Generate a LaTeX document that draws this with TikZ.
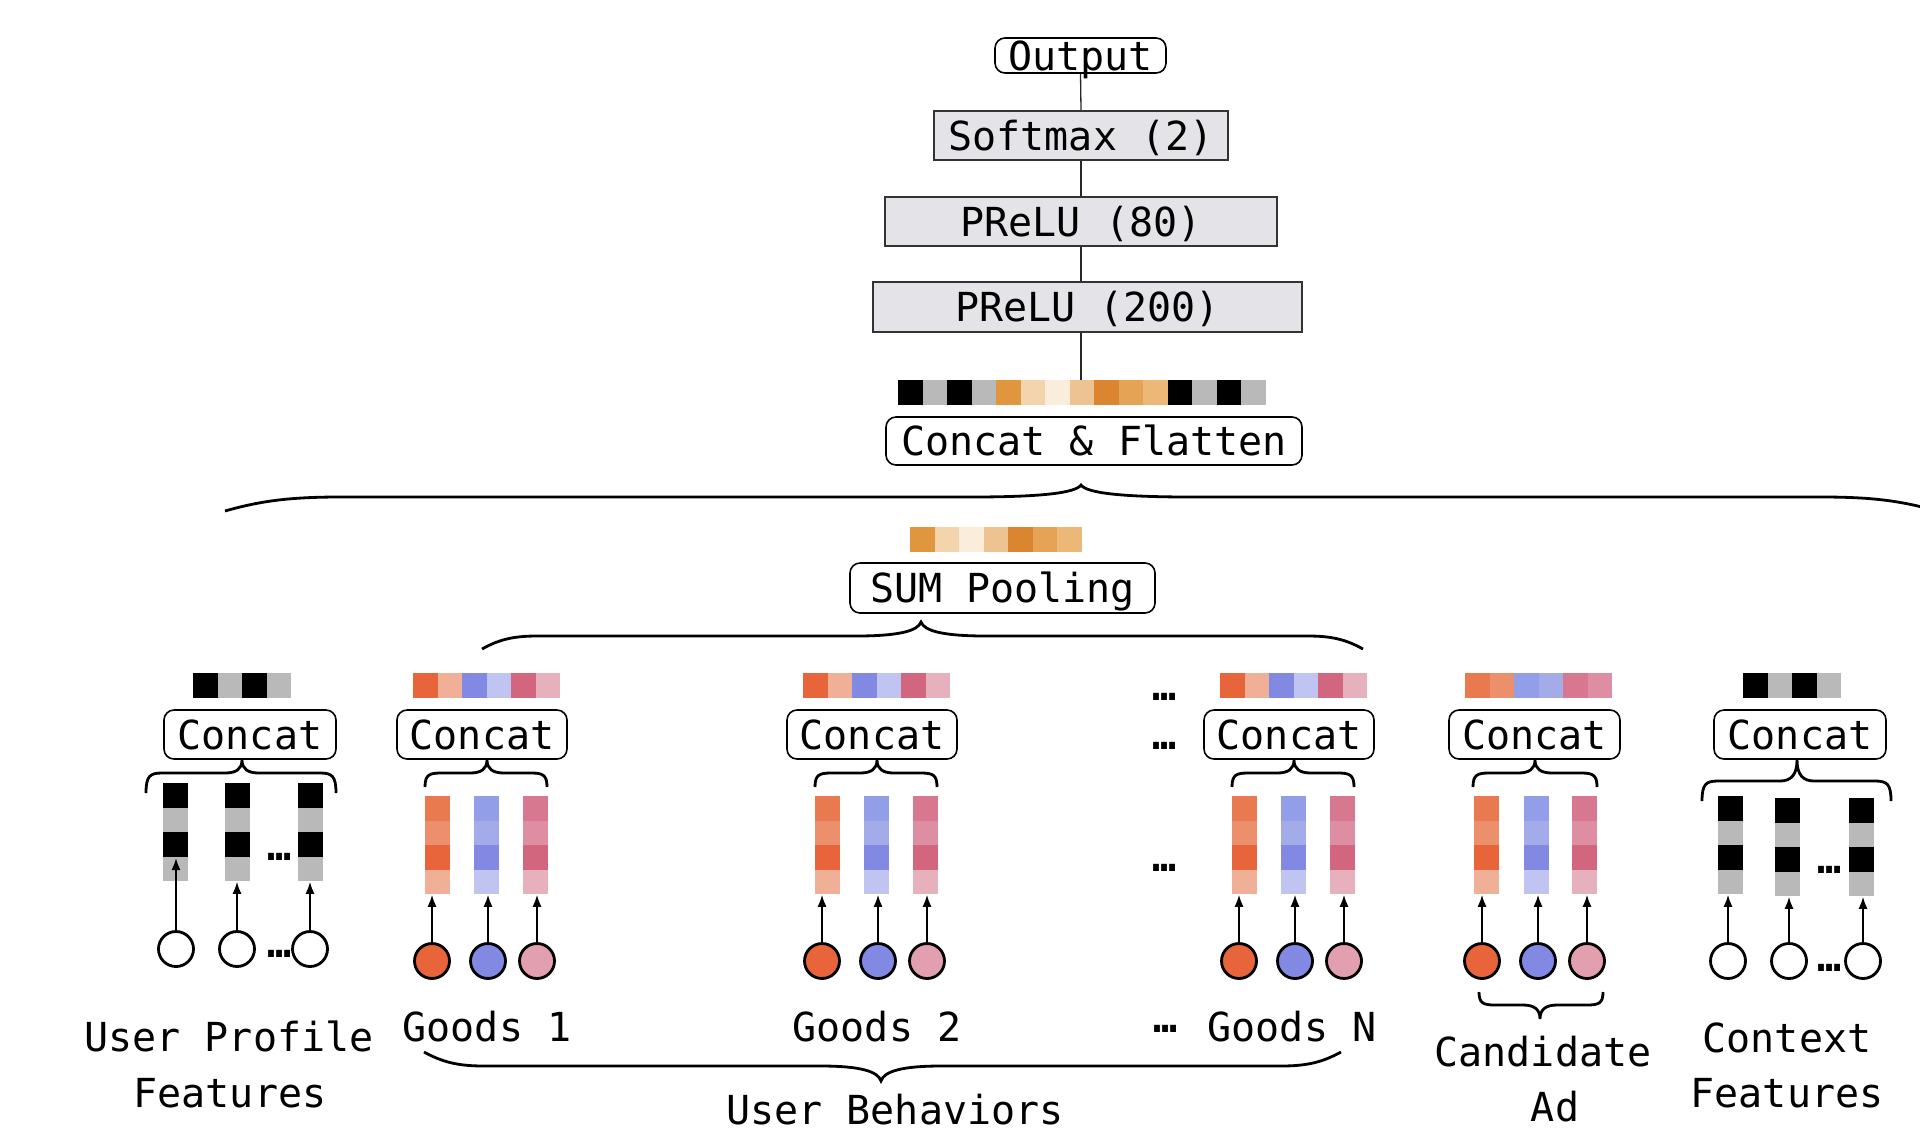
\documentclass[tikz,border=0pt]{standalone}
\usepackage{fontspec}
\setmainfont{DejaVu Sans Mono}
\usetikzlibrary{arrows.meta}
\definecolor{blk}{HTML}{000000}
\definecolor{gry}{HTML}{B9B9B9}
\definecolor{o1}{HTML}{E0963F}
\definecolor{o2}{HTML}{F4D4AC}
\definecolor{o3}{HTML}{FAEDDC}
\definecolor{o4}{HTML}{EDC391}
\definecolor{o5}{HTML}{DC8531}
\definecolor{o6}{HTML}{E5A455}
\definecolor{o7}{HTML}{ECB878}
\definecolor{r1}{HTML}{E8643A}
\definecolor{r2}{HTML}{F0AF97}
\definecolor{r3}{HTML}{E97A50}
\definecolor{r4}{HTML}{EB8F6C}
\definecolor{b1}{HTML}{8189E3}
\definecolor{b2}{HTML}{BFC4F0}
\definecolor{b3}{HTML}{939EE8}
\definecolor{b4}{HTML}{A3ACE9}
\definecolor{p1}{HTML}{D3667F}
\definecolor{p2}{HTML}{E6B0BD}
\definecolor{p3}{HTML}{D77890}
\definecolor{p4}{HTML}{DE8EA2}
\definecolor{pc}{HTML}{E29FB0}
\definecolor{boxgray}{HTML}{E4E4E8}

% row of square cells: x0, y0, colours
\newcommand{\cellrow}[3]{%
  \foreach \cc [count=\ii from 0] in {#3} {\fill[\cc] ({#1+\ii*24.5},{#2}) rectangle ({#1+(\ii+1)*24.5},{#2+24.5});}%
}
% column of cells with a named node: name, x0, y0, colours
\newcommand{\cellcol}[4]{%
  \foreach \cc [count=\ii from 0] in {#4} {\fill[\cc] ({#2},{#3+\ii*24.5}) rectangle ({#2+24.5},{#3+(\ii+1)*24.5});}%
  \node[inner sep=0pt, minimum width=12.25pt, minimum height=49pt, anchor=north west] (#1) at ({#2},{#3}) {};%
}
% small brace: xl, xr, xtip, yend, yflat, ytip
\newcommand{\sbrc}[6]{%
  \draw[brc] ({#1},{#4}) .. controls ({#1},{#5+0.15*(#4-#5)}) and ({#1+4},{#5}) .. ({#1+16},{#5})
    -- ({#3-17},{#5}) .. controls ({#3-6},{#5}) and ({#3},{#5-0.3*(#5-#6)}) .. ({#3},{#6})
    .. controls ({#3},{#5-0.3*(#5-#6)}) and ({#3+6},{#5}) .. ({#3+17},{#5})
    -- ({#2-16},{#5}) .. controls ({#2-4},{#5}) and ({#2},{#5+0.15*(#4-#5)}) .. ({#2},{#4});%
}
% long brace: xl, xr, xtip, yend, yflat, ytip, end-curl, tip-curl
\newcommand{\lbrc}[8]{%
  \draw[brc] ({#1},{#4}) .. controls ({#1+0.3*#7},{#5+0.3*(#4-#5)}) and ({#1+0.55*#7},{#5}) .. ({#1+#7},{#5})
    -- ({#3-#8},{#5}) .. controls ({#3-0.35*#8},{#5}) and ({#3-0.05*#8},{#5-0.35*(#5-#6)}) .. ({#3},{#6})
    .. controls ({#3+0.05*#8},{#5-0.35*(#5-#6)}) and ({#3+0.35*#8},{#5}) .. ({#3+#8},{#5})
    -- ({#2-#7},{#5}) .. controls ({#2-0.55*#7},{#5}) and ({#2-0.3*#7},{#5+0.3*(#4-#5)}) .. ({#2},{#4});%
}
% goods group: id, x shift
\newcommand{\ggroup}[2]{%
  \cellrow{413+#2}{673}{r1,r2,b1,b2,p1,p2}
  \node[box, minimum width=85pt] (#1box) at ({482+#2},734.5) {Concat};
  \sbrc{425+#2}{547+#2}{487+#2}{787}{773}{760}
  \cellcol{#1k1}{425+#2}{796}{r3,r4,r1,r2}
  \cellcol{#1k2}{474+#2}{796}{b3,b4,b1,b2}
  \cellcol{#1k3}{523+#2}{796}{p3,p4,p1,p2}
  \node[circ, fill=r1] (#1c1) at ({432+#2},961) {};
  \node[circ, fill=b1] (#1c2) at ({488+#2},961) {};
  \node[circ, fill=pc] (#1c3) at ({537+#2},961) {};
  \draw[arr] (#1c1.north) -- (#1c1.north |- #1k1.south);
  \draw[arr] (#1c2.north) -- (#1c2.north |- #1k2.south);
  \draw[arr] (#1c3.north) -- (#1c3.north |- #1k3.south);
}

\tikzset{
  box/.style={draw=black, line width=0.8pt, fill=white, rounded corners=5pt, inner sep=0pt,
    text height=14.6pt, text depth=0pt, minimum height=24.5pt},
  gbox/.style={draw=black!80, line width=0.9pt, fill=boxgray, inner sep=0pt,
    text height=14.6pt, text depth=0pt, minimum height=24.5pt},
  lab/.style={inner sep=0pt, text height=14.6pt, text depth=0pt},
  dots/.style={inner sep=0pt, font=\fontsize{20}{24}\selectfont\bfseries},
  circ/.style={circle, draw=black, line width=1.4pt, minimum size=17.5pt, inner sep=0pt},
  arr/.style={-{Latex[length=6pt,width=4.5pt]}, line width=0.8pt},
  brc/.style={line width=1.4pt},
  vl/.style={line width=0.65pt, draw=black!85}
}

\begin{document}
\begin{tikzpicture}[x=0.5pt, y=-0.5pt, font=\fontsize{20}{24}\selectfont]
\useasboundingbox (0,0) rectangle (1920,1136);
\clip (0,0) rectangle (1920,1136);

% ---------- top stack ----------
\node[box, minimum width=85.5pt, minimum height=17.5pt] (out) at (1080.5,55.5) {Output};
\node[gbox, minimum width=147pt] (soft) at (1081,135.5) {Softmax (2)};
\node[gbox, minimum width=196pt] (p80) at (1081,221.5) {PReLU (80)};
\node[gbox, minimum width=214.5pt, minimum height=25pt] (p200) at (1087.5,307) {PReLU (200)};
\cellrow{898}{380}{blk,gry,blk,gry,o1,o2,o3,o4,o5,o6,o7,blk,gry,blk,gry}
\node[anchor=north west, inner sep=0pt, minimum width=183.75pt, minimum height=12.25pt] (cfbar) at (898,380) {};
\node[box, minimum width=208pt, minimum height=24pt] (cf) at (1094,441) {Concat \& Flatten};

\draw[vl] (out.south) -- (soft.north);
\draw[vl] (soft.south) -- (p80.north);
\draw[vl] (p80.south) -- (p80.south |- p200.north);
\draw[vl] (p80.south |- p200.south) -- (p80.south |- cfbar.north);

\lbrc{225}{1937}{1081}{511}{497}{485}{115}{110}

% ---------- sum pooling ----------
\cellrow{910}{527}{o1,o2,o3,o4,o5,o6,o7}
\node[anchor=north west, inner sep=0pt, minimum width=85.75pt, minimum height=12.25pt] (sumbar) at (910,527) {};
\node[box, minimum width=152.5pt, minimum height=25pt] (sum) at (1002.5,588) {SUM Pooling};
\lbrc{482}{1363}{921}{649}{636}{622}{55}{65}

% ---------- user profile ----------
\cellrow{193}{673}{blk,gry,blk,gry}
\node[box, minimum width=86pt] (upbox) at (250,734.5) {Concat};
\sbrc{146}{336}{242}{793}{773}{760}
\cellcol{uk1}{163}{783}{blk,gry,blk,gry}
\cellcol{uk2}{225}{783}{blk,gry,blk,gry}
\cellcol{uk3}{298}{783}{blk,gry,blk,gry}
\node[circ, fill=white] (uc1) at (176,949) {};
\node[circ, fill=white] (uc2) at (237,949) {};
\node[circ, fill=white] (uc3) at (310,949) {};
\coordinate (ut1) at (176,858);
\draw[arr] (uc1.north) -- (ut1);
\draw[arr] (uc2.north) -- (uc2.north |- uk2.south);
\draw[arr] (uc3.north) -- (uc3.north |- uk3.south);
\node[dots] (ud1) at (280,857) {…};
\node[dots] (ud2) at (280,954) {…};

% ---------- goods ----------
\ggroup{ga}{0}
\ggroup{gb}{390}
\ggroup{gc}{807}
\node[dots] (gd1) at (1165,697) {…};
\node[dots] (gd2) at (1165,746) {…};
\node[dots] (gd3) at (1165,868) {…};
\node[dots] (gd4) at (1166,1029) {…};

% ---------- candidate ad ----------
\cellrow{1465}{673}{r3,r4,b3,b4,p3,p4}
\node[box, minimum width=85.5pt] (cabox) at (1534.5,734.5) {Concat};
\sbrc{1473}{1597}{1535}{787}{773}{760}
\cellcol{ck1}{1474}{796}{r3,r4,r1,r2}
\cellcol{ck2}{1524}{796}{b3,b4,b1,b2}
\cellcol{ck3}{1572}{796}{p3,p4,p1,p2}
\node[circ, fill=r1] (cc1) at (1482,961) {};
\node[circ, fill=b1] (cc2) at (1538,961) {};
\node[circ, fill=pc] (cc3) at (1587,961) {};
\draw[arr] (cc1.north) -- (cc1.north |- ck1.south);
\draw[arr] (cc2.north) -- (cc2.north |- ck2.south);
\draw[arr] (cc3.north) -- (cc3.north |- ck3.south);
\sbrc{1479}{1603}{1540}{992}{1005}{1019}

% ---------- context ----------
\cellrow{1743}{673}{blk,gry,blk,gry}
\node[box, minimum width=86pt] (cxbox) at (1800,734.5) {Concat};
\sbrc{1702}{1891}{1797}{801}{781}{760}
\cellcol{xk1}{1718}{796}{blk,gry,blk,gry}
\cellcol{xk2}{1775}{798}{blk,gry,blk,gry}
\cellcol{xk3}{1849}{798}{blk,gry,blk,gry}
\node[circ, fill=white] (xc1) at (1728,961) {};
\node[circ, fill=white] (xc2) at (1789,961) {};
\node[circ, fill=white] (xc3) at (1863,961) {};
\draw[arr] (xc1.north) -- (xc1.north |- xk1.south);
\draw[arr] (xc2.north) -- (xc2.north |- xk2.south);
\draw[arr] (xc3.north) -- (xc3.north |- xk3.south);
\node[dots] (xd1) at (1830,870) {…};
\node[dots] (xd2) at (1830,968) {…};

% ---------- labels ----------
\node[lab] (l1) at (229,1037) {User Profile};
\node[lab] (l2) at (230,1093) {Features};
\node[lab] (l3) at (487,1027) {Goods 1};
\node[lab] (l4) at (877,1027) {Goods 2};
\node[lab] (l5) at (1292,1027) {Goods N};
\lbrc{424}{1341}{881}{1052}{1066}{1081}{60}{60}
\node[lab] (l6) at (895,1110) {User Behaviors};
\node[lab] (l7) at (1543,1052) {Candidate};
\node[lab] (l8) at (1555,1107) {Ad};
\node[lab] (l9) at (1787,1038) {Context};
\node[lab] (l10) at (1787,1093) {Features};
\end{tikzpicture}
\end{document}
